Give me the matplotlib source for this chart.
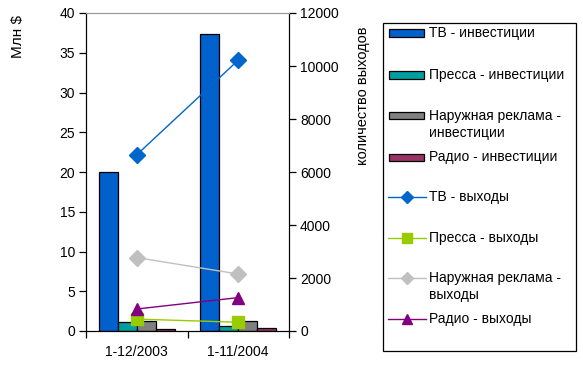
import matplotlib
matplotlib.use("Agg")
import matplotlib.pyplot as plt
import numpy as np
from matplotlib.patches import Rectangle
from matplotlib.lines import Line2D

plt.rcParams['font.family'] = ['Liberation Sans', 'DejaVu Sans']
plt.rcParams['font.size'] = 10

categories = ["1-12/2003", "1-11/2004"]
bar_labels = ["ТВ - инвестиции", "Пресса - инвестиции",
              "Наружная реклама -\nинвестиции", "Радио - инвестиции"]
bar_values = [
    [20.0, 37.4],   # TV
    [1.1, 0.6],     # Press
    [1.2, 1.2],     # Outdoor
    [0.25, 0.35],   # Radio
]
bar_colors = ["#0060CC", "#009E9E", "#808080", "#993366"]

line_labels = ["ТВ - выходы", "Пресса - выходы",
               "Наружная реклама -\nвыходы", "Радио - выходы"]
line_values = [
    [6650, 10220],  # TV
    [450, 330],     # Press
    [2770, 2150],   # Outdoor
    [830, 1260],    # Radio
]
line_colors = ["#0066CC", "#99CC00", "#C0C0C0", "#800080"]
line_markers = ["D", "s", "D", "^"]
marker_sizes = [8, 9, 8, 9]

left_ticks = [0, 5, 10, 15, 20, 25, 30, 35, 40]
right_ticks = [0, 2000, 4000, 6000, 8000, 10000, 12000]

W, H = 583, 365
fig = plt.figure(figsize=(W / 100, H / 100), dpi=100)
ax = fig.add_axes([86 / W, 1 - 331 / H, (289 - 86) / W, (331 - 13) / H])
ax2 = ax.twinx()

x = np.arange(len(categories))
w = 0.187
for i, (vals, col) in enumerate(zip(bar_values, bar_colors)):
    ax.bar(x + (i - 1.5) * w, vals, width=w, color=col, edgecolor="black",
           linewidth=0.9, zorder=2)

for vals, col, m, ms in zip(line_values, line_colors, line_markers, marker_sizes):
    ax2.plot(x, vals, color=col, marker=m, markersize=ms, linewidth=1.0,
             markeredgecolor=col, zorder=3)

ax.set_xlim(-0.5, 1.5)
ax.set_ylim(0, 40)
ax2.set_ylim(0, 12000)
ax.set_yticks(left_ticks)
ax2.set_yticks(right_ticks)
ax.set_xticks([-0.5, 0.5, 1.5])
ax.set_xticklabels([])
ax.set_xticks(x, minor=True)
ax.set_xticklabels(categories, minor=True)
ax.tick_params(axis="x", which="minor", length=0, pad=10)
ax.tick_params(axis="x", which="major", length=5, direction="out", width=0.9)
ax.tick_params(axis="y", length=5, direction="out", width=0.9, pad=3)
ax2.tick_params(axis="y", length=5, direction="out", width=0.9, pad=3)

for a in (ax, ax2):
    a.spines["top"].set_color("#999999")
    a.spines["left"].set_color("black")
    a.spines["right"].set_color("black")
    a.spines["bottom"].set_color("black")
ax2.set_zorder(ax.get_zorder() + 1)
ax2.patch.set_visible(False)

fig.text(18 / W, 1 - 36 / H, "Млн $", rotation=90, ha="center", va="center",
         fontsize=11)
fig.text(363 / W, 1 - 96 / H, "количество выходов", rotation=90,
         ha="center", va="center", fontsize=10.5)

# legend
def fy(py):
    return 1 - py / H

fig.patches.append(Rectangle((383 / W, fy(351)), (576 - 383) / W, (351 - 23) / H,
                             transform=fig.transFigure, facecolor="white",
                             edgecolor="black", linewidth=0.9))
ys = [33, 75, 116, 157, 197, 238, 278, 319]
labels = bar_labels + line_labels
for k, (py, lab) in enumerate(zip(ys, labels)):
    if k < 4:
        fig.patches.append(Rectangle((389 / W, fy(py + 3.5)), 35 / W, 7 / H,
                                     transform=fig.transFigure,
                                     facecolor=bar_colors[k], edgecolor="black",
                                     linewidth=0.9))
    else:
        j = k - 4
        fig.lines.append(Line2D([388 / W, 426 / W], [fy(py), fy(py)],
                                transform=fig.transFigure, color=line_colors[j],
                                linewidth=1.0))
        fig.lines.append(Line2D([407 / W], [fy(py)], transform=fig.transFigure,
                                color=line_colors[j], marker=line_markers[j],
                                markersize=marker_sizes[j] - 2, linestyle="none"))
    if "\n" in lab:
        fig.text(429 / W, fy(py + 8.5), lab, ha="left", va="center",
                 linespacing=1.25)
    else:
        fig.text(429 / W, fy(py), lab, ha="left", va="center")

fig.savefig("out.png", dpi=100)
